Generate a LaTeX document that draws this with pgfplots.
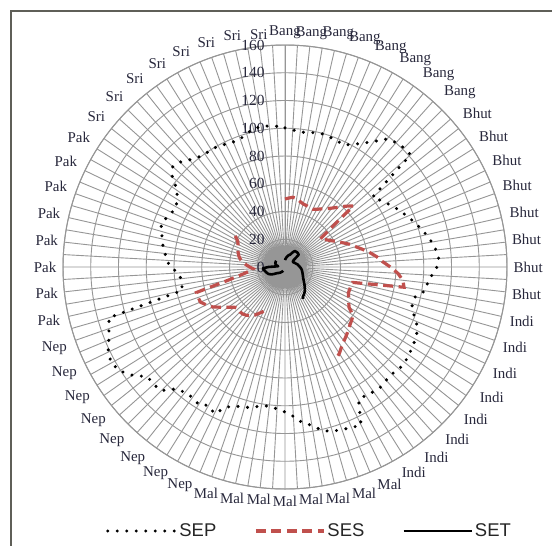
\documentclass[border=0pt]{standalone}
\usepackage{pgfplots}
\pgfplotsset{compat=1.18}
\usepackage{pgfplotstable}
\usepgfplotslibrary{polar}
\usepackage{fontspec}
\setmainfont{Liberation Serif}
\newfontfamily\legendfont{Liberation Sans}
\definecolor{gridgray}{RGB}{150,150,150}
\definecolor{sesred}{RGB}{192,80,77}
\definecolor{framegray}{RGB}{95,95,88}
\definecolor{labtext}{RGB}{40,40,60}

\pgfplotstableread{
k sep ses set
0 100.3 49 5
1 99 49.8 5.8
2 97.8 50.6 6.5
3 98.5 50 7.3
4 99.2 48.5 8
5 99.7 47.3 8.7
6 99 46.9 9.2
7 98.4 46.5 9.6
8 97.7 46.2 11
9 101 47.5 12.5
10 105.4 49.5 13.6
11 111 51.5 13.6
12 118 54.3 13.7
13 120.3 57.8 13.7
14 121.3 62 13.5
15 121.4 66 13.2
16 80.6 32.3 8
17 83.5 34.5 7
18 86.5 36.5 6.8
19 89.7 39 7
20 92.5 42 7.3
21 95.5 45.5 7.7
22 98.5 49.5 8
23 101.5 53 8.5
24 104.5 57.3 9
25 107.3 62 9.5
26 109.5 66.5 9.8
27 110.9 70.3 10.3
28 109.5 76 10.8
29 106 81.5 11.3
30 103.4 85.5 11.8
31 102.5 87 12.3
32 96.3 50 12.6
33 95.2 49.5 13
34 97.5 49.3 13.4
35 102.5 49.4 13.8
36 105.8 51 14.3
37 107.5 52.5 14.9
38 108.4 54.5 15.5
39 109.5 60 16.5
40 110.4 61.5 17.5
41 110.3 62.7 18.8
42 109 64.5 20
43 109.4 66.3 21.5
44 110.6 68.2 22.8
45 110.2 70.5 23.8
46 109.2 73.6 24.7
47 109.5 75.8 26.3
48 126.5 nan nan
49 125.2 nan nan
50 124.2 nan nan
51 123.1 nan nan
52 121 nan nan
53 115.8 nan nan
54 113 nan nan
55 107.8 nan nan
56 104.5 nan nan
57 102.5 nan nan
58 100.8 nan nan
59 101.7 nan nan
60 103.5 nan nan
61 105.4 nan nan
62 106.3 nan nan
63 109.2 nan nan
64 117.3 35.5 3
65 114 38 3.5
66 117 41 4
67 115.3 43 4.5
68 115.6 44.5 5
69 117.8 45.5 5.5
70 126 45.8 6
71 127 45.3 6.5
72 126.8 46.5 7
73 134.8 50 8
74 140.7 54.5 9.5
75 143 59.5 11
76 141.5 63 12
77 137.5 66 13
78 134.4 66.3 13.5
79 132 66.5 14
80 76 41 14.5
81 75.4 31 15
82 75.5 25.5 15.5
83 77 23 15.8
84 82.5 25.5 12
85 85.3 28 7
86 87 30.5 5
87 89.2 32.5 6
88 90.8 34 6.5
89 92.6 35 7
90 94.6 36 7.3
91 92.5 37 7.5
92 90.5 37.5 7.6
93 89.4 39 7.7
94 92.3 42.5 7.8
95 95 44 7.8
96 104 nan nan
97 108.5 nan nan
98 107 nan nan
99 103.5 nan nan
100 100.9 nan nan
101 99.8 nan nan
102 100 nan nan
103 99.5 nan nan
104 98.3 nan nan
105 97.5 nan nan
106 97.7 nan nan
107 100 nan nan
108 102 nan nan
109 102.8 nan nan
110 102.3 nan nan
111 101.6 nan nan
112 100.3 nan nan
}\radardata

\begin{document}
\begin{tikzpicture}
\useasboundingbox (0,0) rectangle (552bp,-546bp);
\fill[white] (0,0) rectangle (552bp,-546bp);
\draw[framegray, line width=2bp] (11bp,-11bp) rectangle (620bp,-620bp);
\begin{polaraxis}[
  at={(285bp,-267bp)}, anchor=center,
  width=444bp, height=444bp, scale only axis,
  xmin=90, xmax=450, ymin=0, ymax=160,
  xtick={90,93.2142857,...,447},
  xticklabels={Bang,
    {},Sri,{},Sri,{},Sri,{},Sri,{},Sri,{},Sri,{},Sri,{},Sri,
    {},Pak,{},Pak,{},Pak,{},Pak,{},Pak,{},Pak,{},Pak,{},Pak,
    {},Nep,{},Nep,{},Nep,{},Nep,{},Nep,{},Nep,{},Nep,{},Nep,
    {},Mal,{},Mal,{},Mal,{},Mal,{},Mal,{},Mal,{},Mal,{},Mal,
    {},Indi,{},Indi,{},Indi,{},Indi,{},Indi,{},Indi,{},Indi,{},Indi,
    {},Bhut,{},Bhut,{},Bhut,{},Bhut,{},Bhut,{},Bhut,{},Bhut,{},Bhut,
    {},Bang,{},Bang,{},Bang,{},Bang,{},Bang,{},Bang,{},Bang,
    {}},
  ytick={0,20,...,160},
  grid=major,
  major grid style={draw=gridgray, line width=0.9bp},
  axis line style={draw=gridgray, line width=1bp},
  major tick length=0pt,
  xticklabel style={font=\fontsize{15}{15}\selectfont, text=labtext, inner sep=6.5bp},
  yticklabel style={font=\fontsize{15.5}{15.5}\selectfont, text=labtext, xshift=-17bp},
  /pgf/number format/assume math mode=true,
  unbounded coords=jump,
  legend style={at={(0.555,-0.0946)}, anchor=center, draw=none, fill=none,
    legend columns=3, font=\legendfont\fontsize{18.5}{19}\selectfont, text=black!85,
    /tikz/every even column/.append style={column sep=36bp}},
  legend image code/.code={\draw[#1] (0bp,0bp) -- (68bp,0bp);},
]
\addplot[black, line width=3.4bp, line cap=round, dash pattern=on 0bp off 9.5bp]
  table[x expr=450-\thisrow{k}*45/14, y=sep]{\radardata};
\addlegendentry{SEP}
\addplot[sesred, line width=3.2bp, dash pattern=on 10bp off 5.5bp]
  table[x expr=450-\thisrow{k}*45/14, y=ses]{\radardata};
\addlegendentry{SES}
\addplot[black, line width=2.6bp, line join=round]
  table[x expr=450-\thisrow{k}*45/14, y=set]{\radardata};
\addlegendentry{SET}
\end{polaraxis}
\end{tikzpicture}
\end{document}
